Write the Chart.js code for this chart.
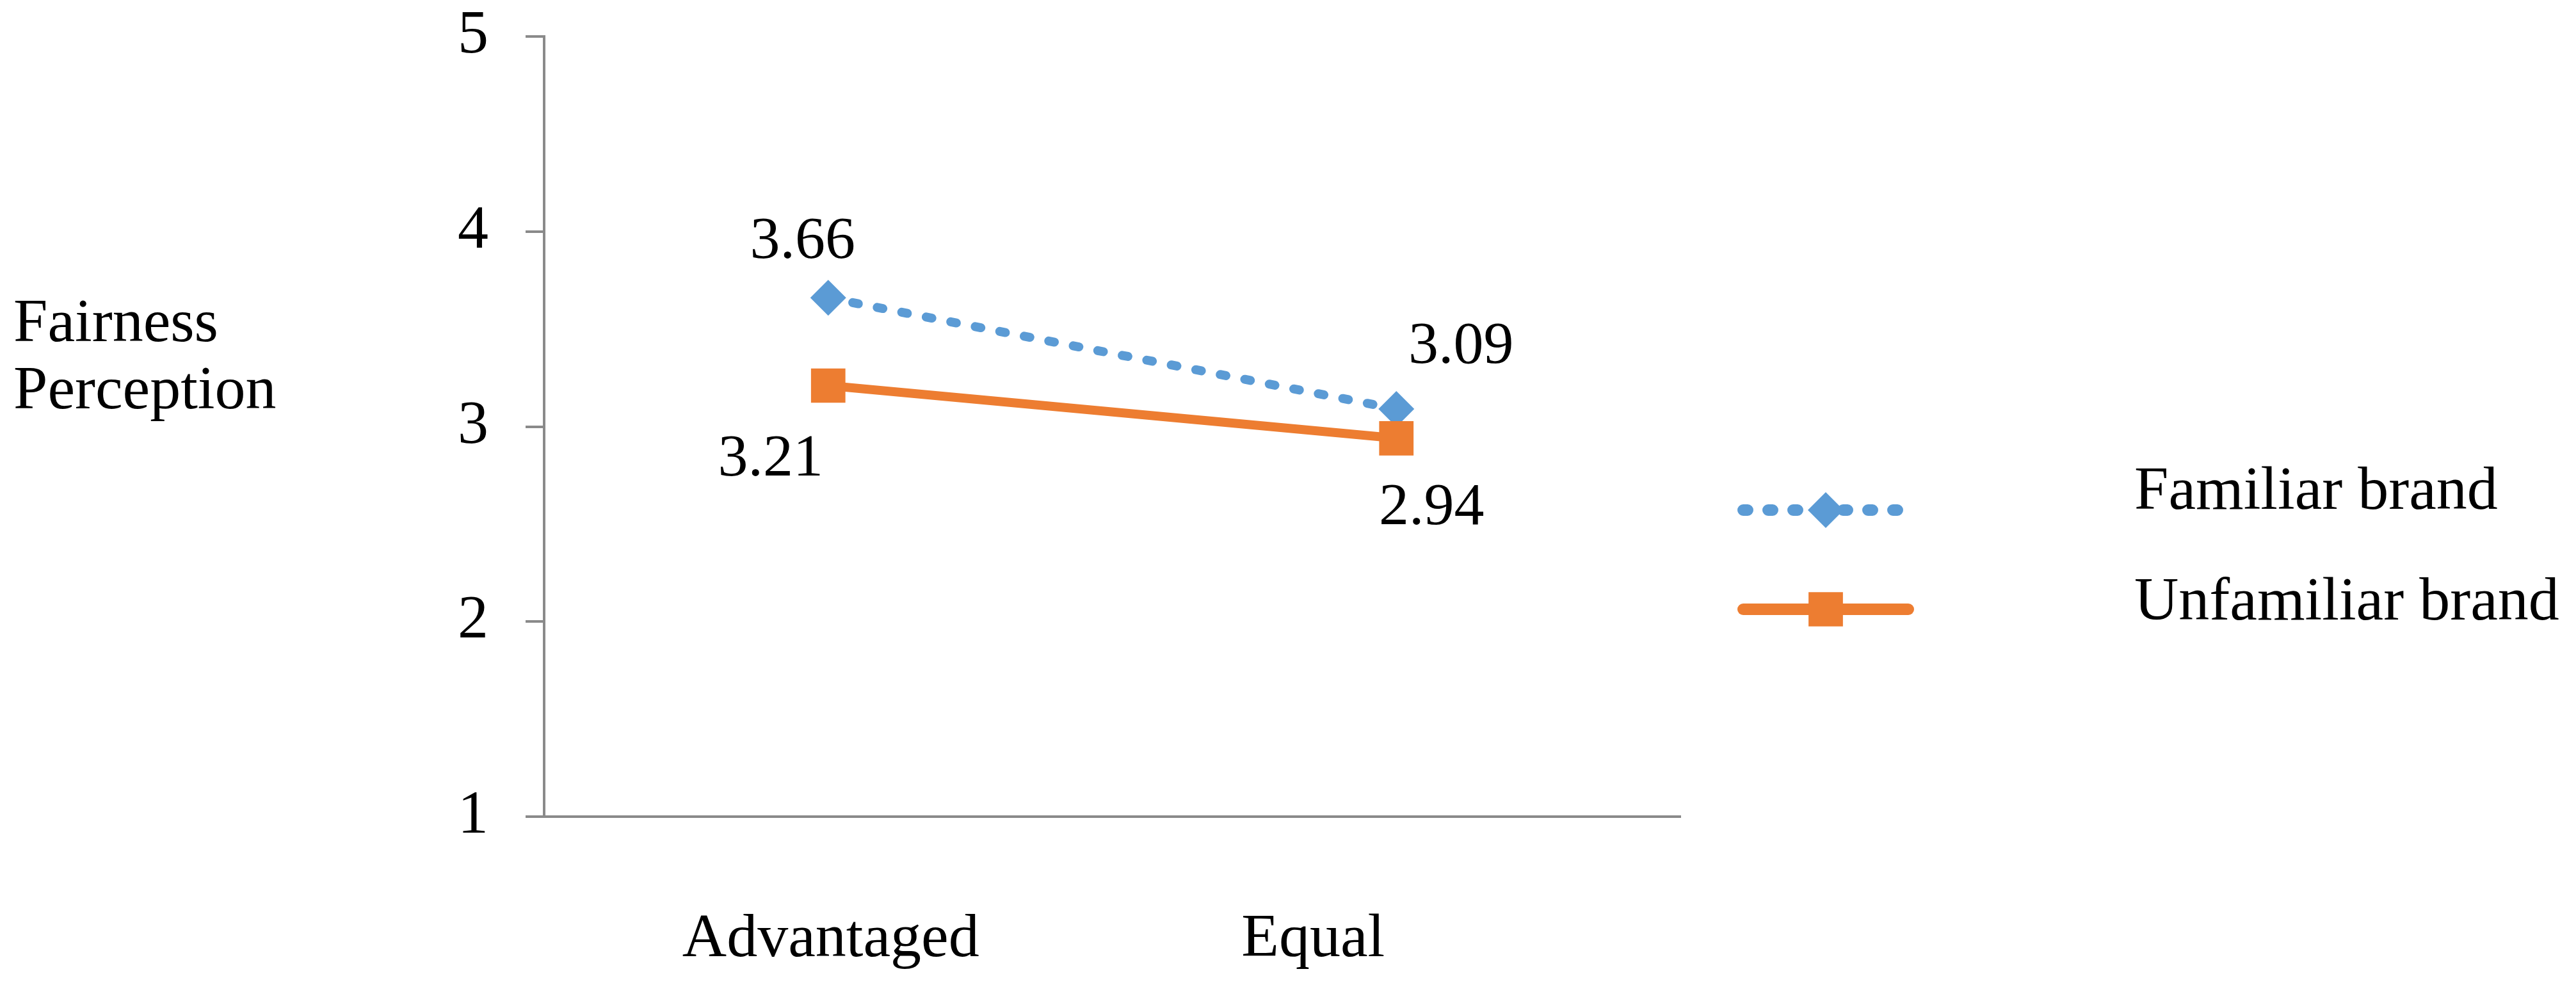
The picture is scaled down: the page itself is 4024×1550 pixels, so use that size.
<!DOCTYPE html>
<html>
<head>
<meta charset="utf-8">
<script src="https://cdn.jsdelivr.net/npm/chart.js@4.4.1/dist/chart.umd.min.js"></script>
<style>
  html, body { margin: 0; padding: 0; background: #ffffff; }
  #c { display: block; }
</style>
</head>
<body>
<canvas id="c" width="4024" height="1550"></canvas>
<script>
// ---- data ----
const categories = ['Advantaged', 'Equal'];
const familiarValues = [3.66, 3.09];
const unfamiliarValues = [3.21, 2.94];
const seriesNames = ['Familiar brand', 'Unfamiliar brand'];
const yTicks = [1, 2, 3, 4, 5];
const yTitleLines = ['Fairness', 'Perception'];

const FONT = '"Liberation Serif", "Times New Roman", serif';
const BLUE = '#5B9BD5';
const ORANGE = '#ED7D31';
const AXIS = '#8a8a8a';

// text plugins
const annotations = {
  id: 'annotations',
  afterDraw(chart, args, opts) {
    const ctx = chart.ctx;
    ctx.save();
    ctx.fillStyle = '#000';
    // y title
    ctx.font = '96px ' + FONT;
    ctx.textAlign = 'left';
    ctx.textBaseline = 'alphabetic';
    yTitleLines.forEach((t, i) => ctx.fillText(t, opts.yTitle.x, opts.yTitle.baselines[i]));
    // x category labels
    const xs = chart.scales.x;
    ctx.textAlign = 'center';
    categories.forEach((c, i) => {
      ctx.fillText(c, xs.getPixelForValue(i) + opts.xLabels.shift[i], opts.xLabels.baseline);
    });
    // data labels
    ctx.font = '94px ' + FONT;
    chart.data.datasets.forEach((ds, di) => {
      const meta = chart.getDatasetMeta(di);
      meta.data.forEach((pt, i) => {
        const off = opts.dataLabelOffsets[di][i];
        ctx.fillText(ds.data[i].toFixed(2), pt.x + off[0], pt.y + off[1]);
      });
    });
    // legend
    const L = opts.legend;
    chart.data.datasets.forEach((ds, di) => {
      const y = L.lineY[di];
      ctx.save();
      ctx.strokeStyle = ds.borderColor;
      ctx.lineWidth = L.lineWidth;
      ctx.lineCap = 'round';
      ctx.setLineDash(di === 0 ? L.dash : []);
      ctx.beginPath();
      ctx.moveTo(L.x1, y);
      ctx.lineTo(L.x2, y);
      ctx.stroke();
      ctx.restore();
      const mx = (L.x1 + L.x2) / 2;
      ctx.fillStyle = ds.pointBackgroundColor;
      ctx.beginPath();
      if (ds.pointStyle === 'rectRot') {
        const r = ds.pointRadius;
        ctx.moveTo(mx - r, y); ctx.lineTo(mx, y - r); ctx.lineTo(mx + r, y); ctx.lineTo(mx, y + r);
        ctx.closePath();
      } else {
        const s = ds.pointRadius * Math.SQRT1_2;
        ctx.rect(mx - s, y - s, 2 * s, 2 * s);
      }
      ctx.fill();
      ctx.fillStyle = '#000';
      ctx.font = '96px ' + FONT;
      ctx.textAlign = 'left';
      ctx.fillText(ds.label, L.textX, L.textBaseline[di]);
    });
    ctx.restore();
  }
};

new Chart(document.getElementById('c'), {
  type: 'line',
  data: {
    labels: categories,
    datasets: [
      {
        label: seriesNames[0],
        data: familiarValues,
        borderColor: BLUE,
        backgroundColor: BLUE,
        pointBackgroundColor: BLUE,
        pointBorderWidth: 0,
        borderWidth: 14,
        borderDash: [9, 30],
        borderCapStyle: 'round',
        pointStyle: 'rectRot',
        pointRadius: 28,
        pointHoverRadius: 28,
        tension: 0,
        order: 2
      },
      {
        label: seriesNames[1],
        data: unfamiliarValues,
        borderColor: ORANGE,
        backgroundColor: ORANGE,
        pointBackgroundColor: ORANGE,
        pointBorderWidth: 0,
        borderWidth: 14,
        pointStyle: 'rect',
        pointRadius: 38,
        pointHoverRadius: 38,
        tension: 0,
        order: 1
      }
    ]
  },
  options: {
    responsive: false,
    animation: false,
    devicePixelRatio: 1,
    events: [],
    layout: { padding: { left: 0, top: 57, right: 1399, bottom: 0 } },
    scales: {
      x: {
        type: 'category',
        offset: true,
        grid: { display: false, drawTicks: false },
        border: { display: true, color: AXIS, width: 4 },
        ticks: { display: false },
        afterFit(scale) { scale.height = 274; scale.paddingLeft = 0; scale.paddingRight = 0; }
      },
      y: {
        min: 1,
        max: 5,
        afterBuildTicks(scale) { scale.ticks = yTicks.map(v => ({ value: v })); },
        grid: { display: true, drawOnChartArea: false, drawTicks: true, tickLength: 29, tickColor: AXIS, tickWidth: 4, lineWidth: 4, color: AXIS },
        border: { display: true, color: AXIS, width: 4 },
        ticks: { color: '#000', padding: 58, font: { family: FONT, size: 96 } },
        afterFit(scale) { scale.width = 850; scale.paddingTop = 0; scale.paddingBottom = 0; }
      }
    },
    plugins: {
      legend: { display: false },
      tooltip: { enabled: false },
      annotations: {
        yTitle: { x: 21, baselines: [533, 638] },
        xLabels: { baseline: 1494, shift: [4, -130] },
        dataLabelOffsets: [
          [[-40, -62], [101, -72]],
          [[-90, 140], [55, 134]]
        ],
        legend: { x1: 2723, x2: 2981, lineY: [797, 952], lineWidth: 18, dash: [7, 32], textX: 3334, textBaseline: [795, 968] }
      }
    }
  },
  plugins: [annotations]
});
</script>
</body>
</html>
